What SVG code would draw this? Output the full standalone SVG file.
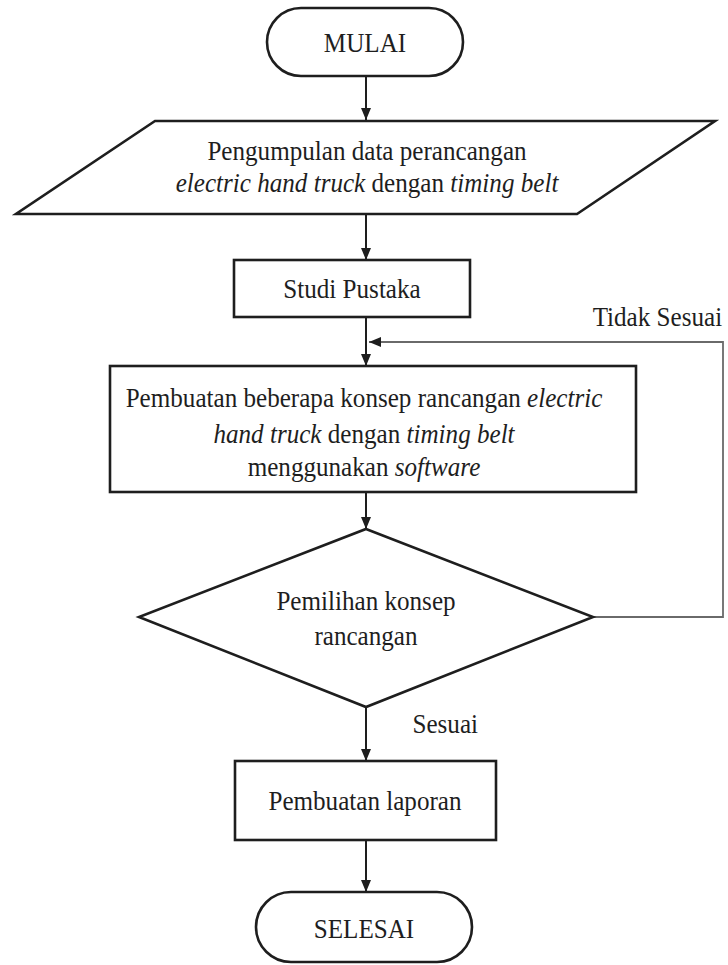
<svg xmlns="http://www.w3.org/2000/svg" width="728" height="965" viewBox="0 0 728 965">
<defs>
<style>
.shape{fill:#fff;stroke:#1e1e1e;stroke-width:2.6}
.t,.lbl{font-family:"Liberation Serif","Times New Roman",serif;font-size:27px;fill:#1e1e1e;transform-box:fill-box;transform-origin:center;transform:scaleX(0.93)}
.t{text-anchor:middle}
.i{font-style:italic}
.c{fill:none;stroke:#1e1e1e;stroke-width:2}
.fb{fill:none;stroke:#6a6a6a;stroke-width:1.8}
</style>
<marker id="ah" viewBox="0 0 12 10" refX="12" refY="5" markerWidth="12" markerHeight="10" markerUnits="userSpaceOnUse" orient="auto">
<path d="M0,0 L12,5 L0,10 z" fill="#1e1e1e"/>
</marker>
</defs>
<rect width="728" height="965" fill="#fff"/>
<g id="connectors">
<line class="c" x1="366" y1="76" x2="366" y2="120" marker-end="url(#ah)"/>
<line class="c" x1="366" y1="214" x2="366" y2="260" marker-end="url(#ah)"/>
<line class="c" x1="366" y1="317" x2="366" y2="366" marker-end="url(#ah)"/>
<polyline class="fb" points="593,617 723,617 723,342 369,342" marker-end="url(#ah)"/>
<line class="c" x1="366" y1="492" x2="366" y2="529" marker-end="url(#ah)"/>
<line class="c" x1="366" y1="707" x2="366" y2="761" marker-end="url(#ah)"/>
<line class="c" x1="366" y1="840" x2="366" y2="892" marker-end="url(#ah)"/>
<text class="lbl" x="727" y="326" text-anchor="end">Tidak Sesuai</text>
<text class="lbl" x="410" y="733">Sesuai</text>
</g>
<g id="mulai">
<rect class="shape" x="267" y="8" width="196" height="68" rx="34"/>
<text class="t" x="365" y="52">MULAI</text>
</g>
<g id="pengumpulan">
<polygon class="shape" points="155,121 715,121 577,214 16,214"/>
<text class="t" x="367" y="160">Pengumpulan data perancangan</text>
<text class="t" x="367" y="192"><tspan class="i">electric hand truck</tspan> dengan <tspan class="i">timing belt</tspan></text>
</g>
<g id="studi">
<rect class="shape" x="234" y="260" width="236" height="57"/>
<text class="t" x="352" y="298">Studi Pustaka</text>
</g>
<g id="konsep">
<rect class="shape" x="110" y="366" width="526" height="126"/>
<text class="t" x="364" y="407">Pembuatan beberapa konsep rancangan <tspan class="i">electric</tspan></text>
<text class="t" x="364" y="443"><tspan class="i">hand truck</tspan> dengan <tspan class="i">timing belt</tspan></text>
<text class="t" x="364" y="476">menggunakan <tspan class="i">software</tspan></text>
</g>
<g id="pemilihan">
<polygon class="shape" points="366,529 593,617 366,707 139,617"/>
<text class="t" x="366" y="610">Pemilihan konsep</text>
<text class="t" x="366" y="645">rancangan</text>
</g>
<g id="laporan">
<rect class="shape" x="235" y="761" width="261" height="79"/>
<text class="t" x="365" y="810">Pembuatan laporan</text>
</g>
<g id="selesai">
<rect class="shape" x="256" y="892" width="216" height="70" rx="35"/>
<text class="t" x="364" y="938">SELESAI</text>
</g>
</svg>
